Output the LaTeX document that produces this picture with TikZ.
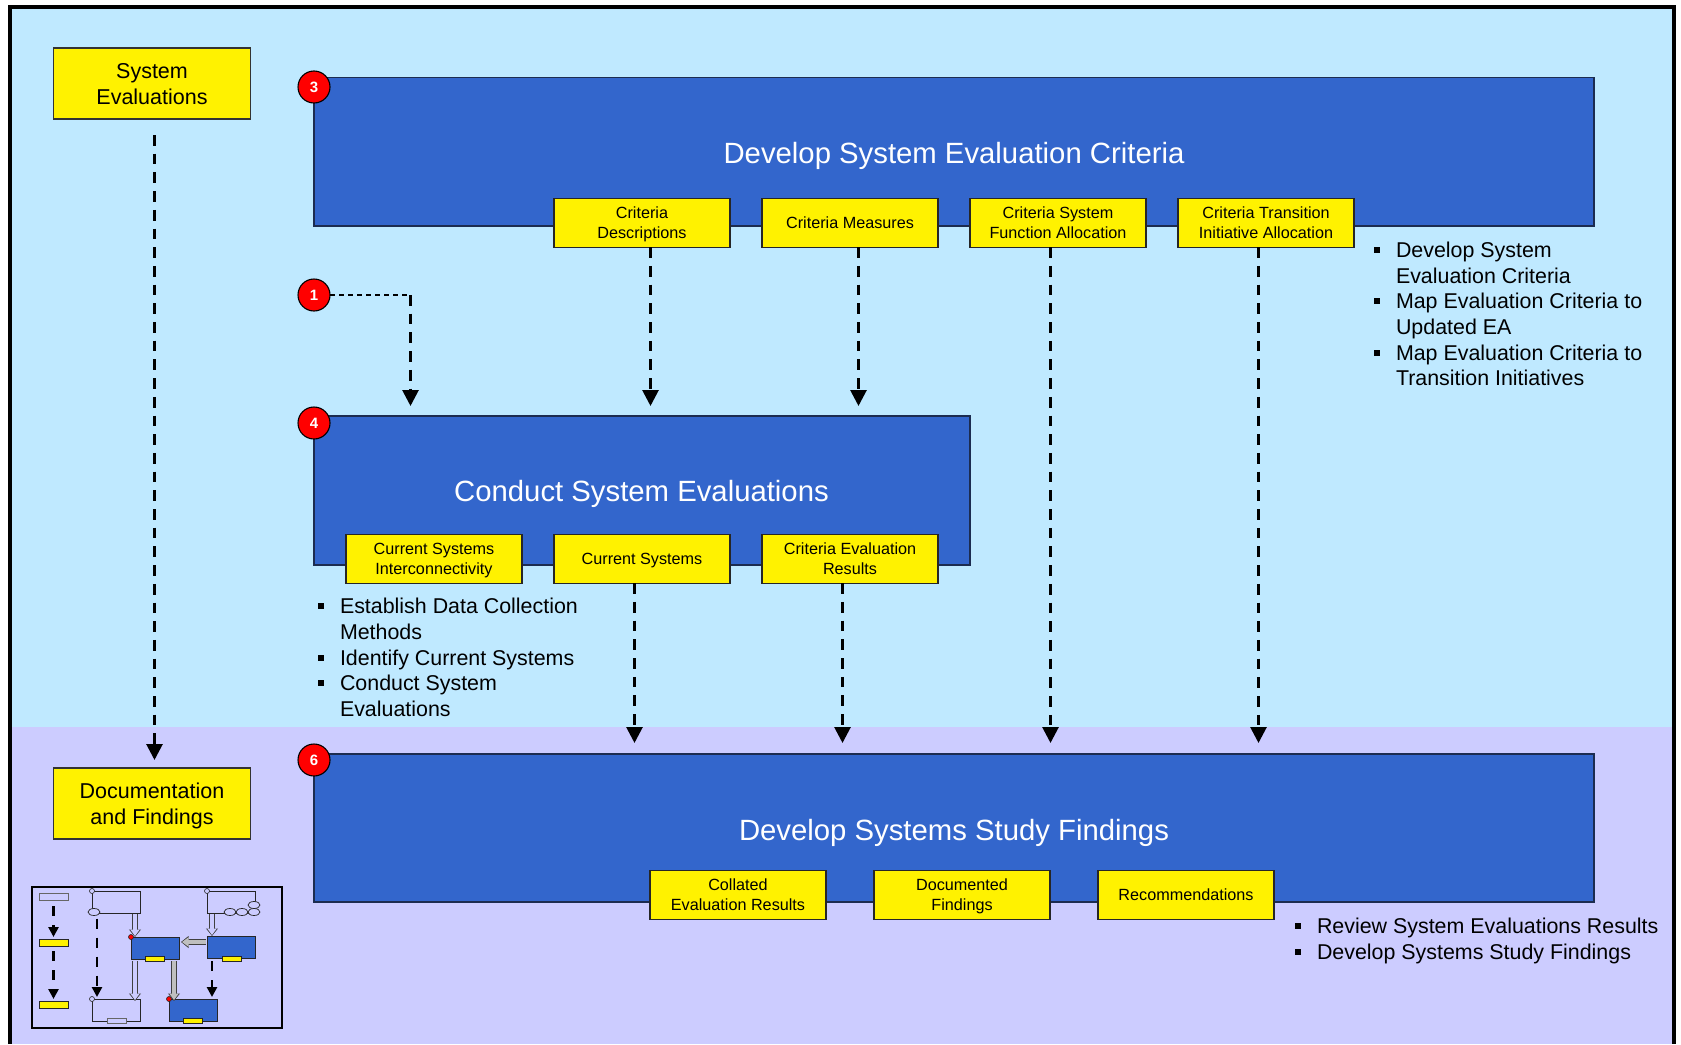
\documentclass[tikz,border=0pt]{standalone}
\usepackage{fontspec}
\setmainfont{Liberation Sans}
\usepackage{xcolor}
\usetikzlibrary{positioning}
\usetikzlibrary{arrows.meta}
\usetikzlibrary{shapes.geometric}
\usetikzlibrary{calc}
\definecolor{skybg}{HTML}{BFE9FF}
\definecolor{lavbg}{HTML}{CCCCFF}
\definecolor{taskblue}{HTML}{3366CC}
\definecolor{edgenavy}{HTML}{1C2C50}
\newcommand{\bul}{\makebox[22pt][l]{\rule[4.5pt]{6pt}{6pt}}}
\newcommand{\nobul}{\hspace*{22pt}}
\tikzset{
 every node/.style={outer sep=0pt},
 phase/.style={draw=black!80, line width=1.3pt, fill=yellow, minimum width=197pt, minimum height=71pt, align=center, text depth=-1pt, font=\fontsize{21.5}{26}\selectfont},
 task/.style={draw=edgenavy, line width=1.3pt, fill=taskblue, anchor=north west},
 tasktitle/.style={text=white, font=\fontsize{29.3}{34}\selectfont},
 prod/.style={draw=black!85, line width=1.1pt, fill=yellow, minimum width=176pt, minimum height=48.5pt, align=center, text depth=-6pt, font=\fontsize{16.2}{20}\selectfont},
 badge/.style={circle, draw=black, line width=1.1pt, fill=red, minimum size=32pt, inner sep=0pt, text=white, font=\fontsize{15}{15}\bfseries\selectfont},
 bullets/.style={anchor=north west, align=left, inner sep=0pt, font=\fontsize{21.4}{25.65}\selectfont},
 dasharrow/.style={line width=2.8pt, dash pattern=on 10.7pt off 8pt, -{Triangle[length=16pt,width=16pt]}},
 thindash/.style={line width=1.3pt, dash pattern=on 5pt off 4pt},
 minidash/.style={line width=2.6pt, dash pattern=on 10pt off 9pt, -{Triangle[length=10pt,width=10pt]}},
 minibox/.style={draw=black!85, line width=.8pt, anchor=north west, minimum width=48pt, minimum height=22pt},
 miniblue/.style={minibox, fill=taskblue},
 miniprod/.style={draw=black!85, line width=.7pt, fill=yellow, minimum width=19pt, minimum height=5pt, inner sep=0pt},
 miniphase/.style={miniprod, minimum width=29pt, minimum height=7pt},
 minidot/.style={circle, draw=black!85, line width=.6pt, fill=lavbg, minimum size=5pt, inner sep=0pt},
 minired/.style={minidot, fill=red},
 miniell/.style={ellipse, draw=black!85, line width=.7pt, fill=lavbg, minimum width=12pt, minimum height=7pt, inner sep=0pt},
 hollow/.style={line width=4.2pt, draw=#1, shorten >=1pt, -{Triangle[length=6.5pt,width=9pt]}, preaction={draw=black!75, line width=5.8pt, shorten >=0pt, -{Triangle[length=7.5pt,width=11.5pt]}}},
 hollow/.default=lavbg
}
\begin{document}
\begin{tikzpicture}[x=1pt,y=-1pt]
\useasboundingbox (0,0) rectangle (1681,1044);
\fill[skybg] (10,7) rectangle (1674,727);
\fill[lavbg] (10,727) rectangle (1674,1044);
\draw[line width=4.5pt] (10,1044) |- (1674,7) -- (1674,1044);
\node[phase] (sysev) at (152,83.5) {System\\Evaluations};
\node[phase] (docfind) at (152,803.5) {Documentation\\and Findings};
\node[task, minimum width=1280pt, minimum height=148.5pt] (crit) at (314,77.5) {};
\node[tasktitle] (crittitle) at (954,155.5) {Develop System Evaluation Criteria};
\node[task, minimum width=656pt, minimum height=149pt] (conduct) at (314,416) {};
\node[tasktitle] (conducttitle) at (641.5,493.5) {Conduct System Evaluations};
\node[task, minimum width=1280pt, minimum height=148pt] (findings) at (314,754) {};
\node[tasktitle] (findingstitle) at (954,833) {Develop Systems Study Findings};
\node[prod] (critdesc) at (642,223) {Criteria\\Descriptions};
\node[prod, right=32pt of critdesc] (critmeas) {Criteria Measures};
\node[prod, right=32pt of critmeas] (critfunc) {Criteria System\\Function Allocation};
\node[prod, right=32pt of critfunc] (crittrans) {Criteria Transition\\Initiative Allocation};
\node[prod] (cursys) at (642,559) {Current Systems};
\node[prod, left=32pt of cursys] (curconn) {Current Systems\\Interconnectivity};
\node[prod, right=32pt of cursys] (critres) {Criteria Evaluation\\Results};
\node[prod] (collated) at (738,895) {Collated\\Evaluation Results};
\node[prod, right=48pt of collated] (docfound) {Documented\\Findings};
\node[prod, right=48pt of docfound] (recomm) {Recommendations};
\node[badge] (b3) at (314,87) {3};
\node[badge] (b1) at (314,295) {1};
\node[badge] (b4) at (314,423) {4};
\node[badge] (b6) at (314,760) {6};
\coordinate (turn) at (410.5,295);
\coordinate (in1) at (410.5,406);
\coordinate (in2) at (650.5,406);
\coordinate (in3) at (858.5,406);
\coordinate (in4) at (634.5,743);
\coordinate (in5) at (842.5,743);
\coordinate (in6) at (1050.5,743);
\coordinate (in7) at (1258.5,743);
\coordinate (outdoc) at (154.5,135);
\coordinate (indoc) at (154.5,760);
\draw[dasharrow] (outdoc) -- (indoc);
\draw[thindash] (b1) -- (turn);
\draw[dasharrow] (turn) -- (in1);
\draw[dasharrow] (critdesc.south -| in2) -- (in2);
\draw[dasharrow] (critmeas.south -| in3) -- (in3);
\draw[dasharrow] (cursys.south -| in4) -- (in4);
\draw[dasharrow] (critres.south -| in5) -- (in5);
\draw[dasharrow] (critfunc.south -| in6) -- (in6);
\draw[dasharrow] (crittrans.south -| in7) -- (in7);
\node[bullets] (critlist) at (1374,242) {\bul Develop System\\\nobul Evaluation Criteria\\\bul Map Evaluation Criteria to\\\nobul Updated EA\\\bul Map Evaluation Criteria to\\\nobul Transition Initiatives};
\node[bullets] (conductlist) at (318,598.3) {\bul Establish Data Collection\\\nobul Methods\\\bul Identify Current Systems\\\bul Conduct System\\\nobul Evaluations};
\node[bullets] (findlist) at (1295,918) {\bul Review System Evaluations Results\\\bul Develop Systems Study Findings};
\node[draw=black, line width=2.6pt, minimum width=250pt, minimum height=141pt, anchor=north west] (mini) at (32,887) {};
\node[miniphase, fill=lavbg, draw=black!60] (m1) at (53.5,896.5) {};
\node[miniphase] (m2) at (53.5,942.5) {};
\node[miniphase] (m3) at (53.5,1004.5) {};
\node[minibox] (ma) at (92,891) {};
\node[minibox] (mb) at (207,891) {};
\node[miniblue] (mc) at (131,937) {};
\node[miniblue] (md) at (207,936) {};
\node[minibox] (me) at (92,999) {};
\node[miniblue] (mf) at (169,999) {};
\node[miniprod] (mcs) at (155,959) {};
\node[miniprod] (mds) at (231.5,958.5) {};
\node[miniprod, fill=lavbg, draw=black!60] (mes) at (116.5,1021) {};
\node[miniprod] (mfs) at (192.5,1021) {};
\node[minidot] (mad) at (ma.north west) {};
\node[minidot] (mbd) at (mb.north west) {};
\node[minidot] (med) at (me.north west) {};
\node[minired] (mcd) at (mc.north west) {};
\node[minired] (mfd) at (mf.north west) {};
\node[miniell] (mae) at (94,912) {};
\node[miniell] (mb1) at (230,912) {};
\node[miniell] (mb2) at (242,912) {};
\node[miniell] (mb3) at (254,912) {};
\node[miniell] (mb4) at (254,905) {};
\coordinate (ma1) at (97,997);
\coordinate (ma2) at (212,997);
\draw[minidash, shorten <=6pt, shorten >=2pt] (m1) -- (m2);
\draw[minidash, shorten <=5pt, shorten >=2pt] (m2) -- (m3);
\draw[minidash] ($(mae.south -| ma1)+(0,3)$) -- (ma1);
\draw[minidash] ($(md.south -| ma2)+(0,3)$) -- (ma2);
\coordinate (mt1) at (135,914);
\coordinate (mt2) at (212,914);
\coordinate (mt3) at (135,961);
\coordinate (mt4) at (174,961);
\coordinate (mt5) at (206,942);
\draw[hollow] (mt1) -- (mt1 |- mc.north);
\draw[hollow] (mt2) -- (mt2 |- md.north);
\draw[hollow=black!25] (mt5) -- ([xshift=2pt]mt5 -| mc.east);
\draw[hollow] (mt3) -- ([yshift=-2pt]mt3 |- me.north);
\draw[hollow=black!25] (mt4) -- ([yshift=-2pt]mt4 |- mf.north);
\end{tikzpicture}
\end{document}
